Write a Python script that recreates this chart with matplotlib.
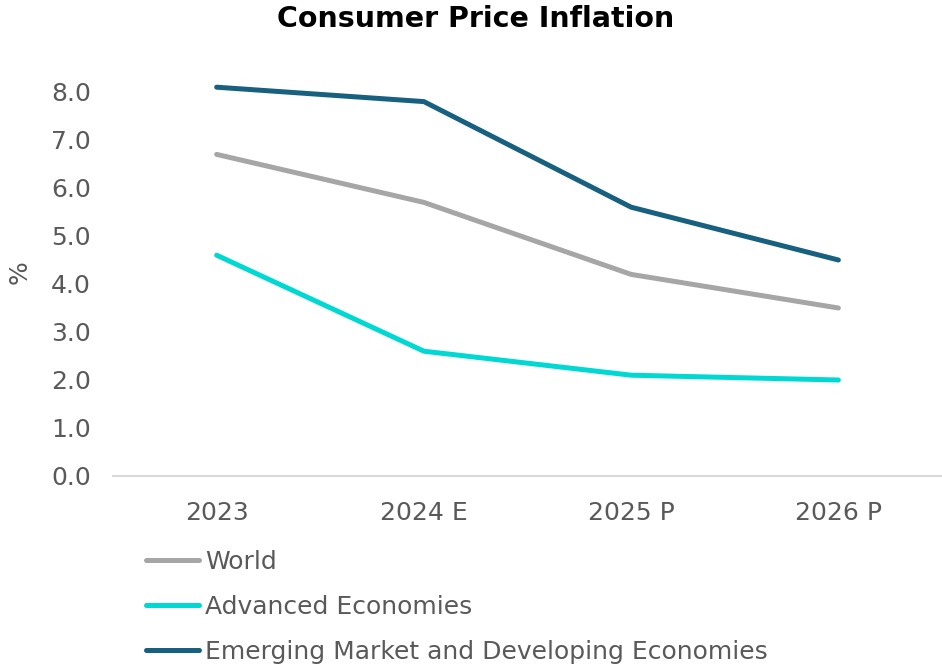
import matplotlib
matplotlib.use("Agg")
import matplotlib.pyplot as plt

years = ["2023", "2024 E", "2025 P", "2026 P"]
world = [6.7, 5.7, 4.2, 3.5]
advanced = [4.6, 2.6, 2.1, 2.0]
emerging = [8.1, 7.8, 5.6, 4.5]

plt.rcParams['font.family'] = ['DejaVu Sans']

fig = plt.figure(figsize=(9.42, 6.66), dpi=100)
ax = fig.add_axes([0.12, 0.2853, 0.88, 0.6126])

x = range(len(years))
ax.plot(x, world, color="#A6A6A6", lw=3.6, solid_capstyle="round", label="World")
ax.plot(x, advanced, color="#00D9D3", lw=3.6, solid_capstyle="round", label="Advanced Economies")
ax.plot(x, emerging, color="#17607F", lw=3.6, solid_capstyle="round",
        label="Emerging Market and Developing Economies")

ax.set_xlim(-0.5, 3.5)
ax.set_ylim(0, 8.5)
ax.set_xticks(list(x))
ax.set_xticklabels(years)
ax.set_yticks([i for i in range(9)])
ax.set_yticklabels(["%.1f" % i for i in range(9)])
ax.tick_params(length=0, labelsize=18, colors="#595959")
ax.tick_params(axis="x", pad=18)
ax.tick_params(axis="y", pad=16)
for s in ["top", "right", "left"]:
    ax.spines[s].set_visible(False)
ax.spines["bottom"].set_color("#D9D9D9")
ax.spines["bottom"].set_linewidth(1.5)

ax.set_ylabel("%", fontsize=18, color="#595959", labelpad=14)
fig.text(0.505, 0.972, "Consumer Price Inflation", ha="center", va="center",
         fontsize=20.5, fontweight="bold", color="black")

fig.legend(loc="upper left", bbox_to_anchor=(0.155, 0.174), frameon=False,
           fontsize=18, handlelength=2.1, handletextpad=0.25, labelspacing=0.84,
           borderpad=0, borderaxespad=0, labelcolor="#595959")

fig.savefig("out.png", dpi=100)
